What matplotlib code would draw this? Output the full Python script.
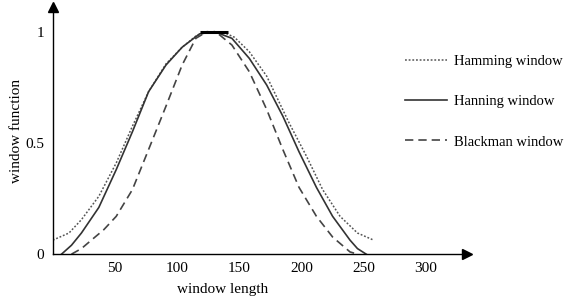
import matplotlib.pyplot as plt

plt.rcParams['font.family'] = ['Liberation Serif', 'DejaVu Serif']

# values
hamming_x = [0, 13, 23, 37, 51, 64, 77, 91, 104, 115, 122, 130, 138, 146, 158, 172, 190, 204, 217, 231, 245, 258]
hamming_y = [0.063, 0.095, 0.155, 0.26, 0.41, 0.575, 0.73, 0.855, 0.93, 0.98, 0.995, 1.0,
             0.995, 0.975, 0.91, 0.8, 0.59, 0.44, 0.29, 0.17, 0.095, 0.063]

hanning_x = [7, 15, 23, 37, 51, 64, 77, 91, 104, 118, 130, 144, 158, 172, 185, 198, 212, 225, 239, 245, 252]
hanning_y = [0, 0.04, 0.095, 0.21, 0.38, 0.55, 0.73, 0.85, 0.93, 0.99, 1.0,
             0.97, 0.88, 0.76, 0.62, 0.46, 0.30, 0.17, 0.063, 0.025, 0]

blackman_x = [15, 23, 31, 41, 51, 64, 77, 91, 104, 115, 124, 132, 144, 158, 172, 185, 198, 212, 225, 239, 245]
blackman_y = [0, 0.025, 0.063, 0.11, 0.17, 0.29, 0.47, 0.665, 0.85, 0.97, 1.0,
              0.995, 0.94, 0.82, 0.65, 0.47, 0.30, 0.17, 0.077, 0.01, 0]

peak_x = [118, 141]
peak_y = [1, 1]

x_ticks = [50, 100, 150, 200, 250, 300]
y_ticks = [0, 0.5, 1]
y_tick_labels = ['0', '0.5', '1']

fig = plt.figure(figsize=(5.68, 2.99), dpi=100)
ax = fig.add_axes([0.093, 0.15, 0.729, 0.826])

ax.plot(hamming_x, hamming_y, color='#555555', lw=1.1, ls=(0, (1.2, 1.2)), label='Hamming window')
ax.plot(hanning_x, hanning_y, color='#333333', lw=1.2, ls='-', label='Hanning window')
ax.plot(blackman_x, blackman_y, color='#444444', lw=1.2, ls=(0, (5, 3)), label='Blackman window')
ax.plot(peak_x, peak_y, color='black', lw=2.2, solid_capstyle='butt')

ax.set_xlim(0, 333)
ax.set_ylim(0, 1.11)
ax.set_xticks(x_ticks)
ax.set_yticks(y_ticks)
ax.set_yticklabels(y_tick_labels)
ax.tick_params(length=0, labelsize=11, pad=6)

for s in ['top', 'right']:
    ax.spines[s].set_visible(False)
for s in ['left', 'bottom']:
    ax.spines[s].set_linewidth(1.0)

# arrow heads on the axes
ax.plot(1, 0, '>k', ms=7, transform=ax.transAxes, clip_on=False)
ax.plot(0, 1, '^k', ms=7, transform=ax.transAxes, clip_on=False)

ax.set_xlabel('window length', fontsize=11)
ax.xaxis.set_label_coords(0.41, -0.115)
ax.set_ylabel('window function', fontsize=11, labelpad=2)

fig.legend(loc='upper left', bbox_to_anchor=(0.69, 0.86), frameon=False,
           fontsize=10.5, handlelength=2.85, handletextpad=0.5, labelspacing=1.85)

fig.savefig('out.png', dpi=100)
